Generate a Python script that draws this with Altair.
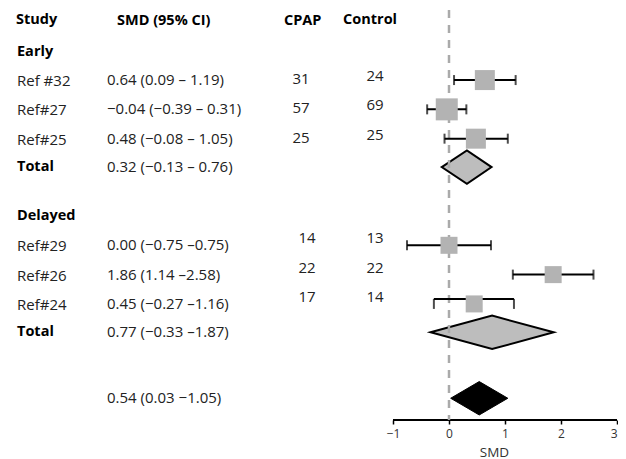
import altair as alt
import pandas as pd

# ---- data ----
studies = ["Ref #32", "Ref#27", "Ref#25", "Ref#29", "Ref#26", "Ref#24"]
groups = ["Early", "Early", "Early", "Delayed", "Delayed", "Delayed"]
smd = [0.64, -0.04, 0.48, 0.00, 1.86, 0.45]
lo = [0.09, -0.39, -0.08, -0.75, 1.14, -0.27]
hi = [1.19, 0.31, 1.05, 0.75, 2.58, 1.16]
ci_text = ["0.64 (0.09 \u2013 1.19)", "\u22120.04 (\u22120.39 \u2013 0.31)",
           "0.48 (\u22120.08 \u2013 1.05)", "0.00 (\u22120.75 \u20130.75)",
           "1.86 (1.14 \u20132.58)", "0.45 (\u22120.27 \u20131.16)"]
cpap = [31, 57, 25, 14, 22, 17]
control = [24, 69, 25, 13, 22, 14]
weight = [400, 484, 400, 289, 289, 289]

total_groups = ["Early", "Delayed", "Overall"]
total_labels = ["Total", "Total", ""]
total_smd = [0.32, 0.77, 0.54]
total_lo = [-0.13, -0.33, 0.03]
total_hi = [0.76, 1.87, 1.05]
total_text = ["0.32 (\u22120.13 \u2013 0.76)", "0.77 (\u22120.33 \u20131.87)",
              "0.54 (0.03 \u22121.05)"]

headers = ["Study", "SMD (95% CI)", "CPAP", "Control"]
axis_ticks = [-1, 0, 1, 2, 3]

# ---- layout (row slots) ----
r = 1.1
rows_study = []
rows_total = []
section_rows = {}
for g in ["Early", "Delayed"]:
    if g == "Delayed":
        r += 0.64
    section_rows[g] = r
    r += 1 - (0.05 if g == "Early" else 0)
    for i, s in enumerate(studies):
        if groups[i] == g:
            rows_study.append(r)
            r += 1
    rows_total.append(r - 0.03)
    r += 1
rows_total.append(rows_total[-1] + 2.25)

df = pd.DataFrame({"study": studies, "group": groups, "smd": smd, "lo": lo, "hi": hi,
                   "ci": ci_text, "cpap": [str(v) for v in cpap],
                   "control": [str(v) for v in control], "w": weight,
                   "row": rows_study})
dft = pd.DataFrame({"group": total_groups, "label": total_labels, "smd": total_smd,
                    "lo": total_lo, "hi": total_hi, "ci": total_text, "row": rows_total})
dfsec = pd.DataFrame({"label": ["Early", "Delayed"],
                      "row": [section_rows["Early"], section_rows["Delayed"]]})
dfh = pd.DataFrame({"label": headers, "row": [0.0, 0.03, 0.03, 0.0]})
header_x = [8, 109, 276, 335]

# diamond polygons
H = 0.57
poly = []
for g, s, l, h, rr in zip(total_groups, total_smd, total_lo, total_hi, rows_total):
    poly += [{"g": g, "x": l, "y": rr, "y2": rr},
             {"g": g, "x": s, "y": rr - H, "y2": rr + H},
             {"g": g, "x": h, "y": rr, "y2": rr}]
dfp = pd.DataFrame(poly)

FONT = "Open Sans"
W, HT = 610, 412
# pixel layout: row r -> 12 + 29.3 r ; SMD v -> 385 + 56 (v + 1)
PX_ROW, PX_UNIT = 29.3, 56.0
y0 = -12 / PX_ROW
x0 = -1 - 385 / PX_UNIT
yscale = alt.Scale(domain=[y0, y0 + HT / PX_ROW], reverse=True, zero=False, nice=False)
xscale = alt.Scale(domain=[x0, x0 + W / PX_UNIT], zero=False, nice=False)

Y = alt.Y("row:Q", scale=yscale, axis=None)
XAXIS = alt.Axis(values=axis_ticks, format="d", grid=False, domain=False,
                 tickColor="black", tickWidth=1.5, tickSize=4, labelFont=FONT,
                 labelFontSize=12, labelColor="#333", labelPadding=4, title="SMD",
                 titleFont=FONT, titleFontSize=13.5, titleFontWeight="normal",
                 titleColor="#333", titleX=486, titlePadding=6)

base = alt.Chart(df)
normal = base.transform_filter(alt.datum.study != "Ref#24")
bracket = base.transform_filter(alt.datum.study == "Ref#24")

axis_line = alt.Chart(pd.DataFrame({"a": [axis_ticks[0]], "b": [axis_ticks[-1]]})).mark_rule(
    color="black", strokeWidth=2
).encode(x=alt.X("a:Q", scale=xscale, axis=XAXIS), x2="b:Q", y=alt.value(HT))

zero = alt.Chart(pd.DataFrame({"x": [0]})).mark_rule(
    color="#aaaaaa", strokeWidth=2.5, strokeDash=[8, 7]
).encode(x=alt.X("x:Q"), y=alt.value(2), y2=alt.value(HT))

ci_rule = normal.mark_rule(color="black", strokeWidth=2).encode(
    x=alt.X("lo:Q"), x2="hi:Q", y=Y)
cap_lo = normal.mark_tick(color="black", thickness=2, size=10, orient="vertical").encode(
    x=alt.X("lo:Q"), y=Y)
cap_hi = normal.mark_tick(color="black", thickness=2, size=10, orient="vertical").encode(
    x=alt.X("hi:Q"), y=Y)
# Ref#24 drawn as a bracket (caps hanging below the line), as in the reference
br_rule = bracket.mark_rule(color="black", strokeWidth=2, yOffset=-5).encode(
    x=alt.X("lo:Q"), x2="hi:Q", y=Y)
br_lo = bracket.mark_tick(color="black", thickness=2, size=10, orient="vertical",
                          yOffset=0).encode(x=alt.X("lo:Q"), y=Y)
br_hi = bracket.mark_tick(color="black", thickness=2, size=10, orient="vertical",
                          yOffset=0).encode(x=alt.X("hi:Q"), y=Y)
squares = base.mark_square(color="#b3b3b3", opacity=1).encode(
    x=alt.X("smd:Q"), y=Y,
    size=alt.Size("w:Q", scale=alt.Scale(domain=[289, 484], range=[289, 484]), legend=None))

diam_sub = alt.Chart(dfp).transform_filter(alt.datum.g != "Overall").mark_area(
    color="#bdbdbd", stroke="black", strokeWidth=2, opacity=1, interpolate="linear"
).encode(x=alt.X("x:Q"), y=alt.Y("y:Q", scale=yscale, axis=None), y2="y2:Q",
         detail="g:N")
diam_all = alt.Chart(dfp).transform_filter(alt.datum.g == "Overall").mark_area(
    color="black", stroke="black", strokeWidth=1, opacity=1, interpolate="linear"
).encode(x=alt.X("x:Q"), y=alt.Y("y:Q", scale=yscale, axis=None), y2="y2:Q",
         detail="g:N")

txt = dict(font=FONT, fontSize=15, baseline="middle", color="#222")
btxt = dict(font=FONT, fontSize=14.5, baseline="middle", color="black", fontWeight="bold")

hdr_layers = [
    alt.Chart(dfh).transform_filter(alt.datum.label == h).mark_text(align="left", **btxt)
    .encode(x=alt.value(hx), y=Y, text="label:N")
    for h, hx in zip(headers, header_x)
]
sec = alt.Chart(dfsec).mark_text(align="left", **btxt).encode(
    x=alt.value(9), y=Y, text="label:N")
lab = base.mark_text(align="left", dy=1, **txt).encode(x=alt.value(9), y=Y, text="study:N")
ci_t = base.mark_text(align="left", **txt).encode(x=alt.value(99), y=Y, text="ci:N")
cp_e = base.transform_filter(alt.datum.group == "Early").mark_text(
    align="center", dy=-1, **txt).encode(x=alt.value(293), y=Y, text="cpap:N")
co_e = base.transform_filter(alt.datum.group == "Early").mark_text(
    align="center", dy=-4, **txt).encode(x=alt.value(367), y=Y, text="control:N")
cp_d = base.transform_filter(alt.datum.group == "Delayed").mark_text(
    align="center", dy=-7, **txt).encode(x=alt.value(299), y=Y, text="cpap:N")
co_d = base.transform_filter(alt.datum.group == "Delayed").mark_text(
    align="center", dy=-7, **txt).encode(x=alt.value(367), y=Y, text="control:N")
tot_l = alt.Chart(dft).mark_text(align="left", **btxt).encode(
    x=alt.value(9), y=Y, text="label:N")
tot_t = alt.Chart(dft).mark_text(align="left", **txt).encode(
    x=alt.value(99), y=Y, text="ci:N")

chart = alt.layer(
    axis_line, diam_sub, diam_all, zero, ci_rule, cap_lo, cap_hi,
    br_rule, br_lo, br_hi, squares,
    *hdr_layers, sec, lab, ci_t, cp_e, co_e, cp_d, co_d, tot_l, tot_t
).properties(width=W, height=HT, padding=0).configure_view(strokeWidth=0)

chart.save("out.html", embed_options={"renderer": "svg", "actions": False})
